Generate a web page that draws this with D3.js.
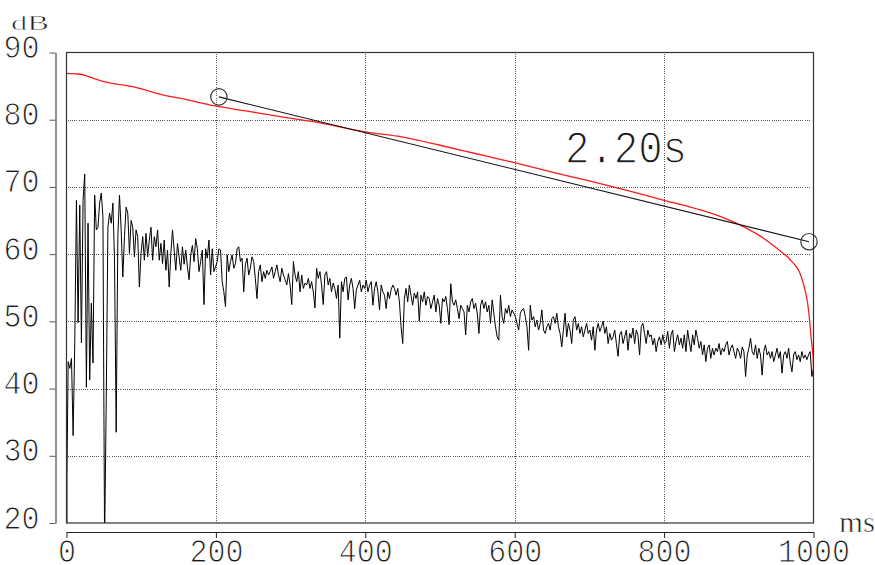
<!DOCTYPE html>
<html>
<head>
<meta charset="utf-8">
<script src="https://cdn.jsdelivr.net/npm/d3@7"></script>
<style>
  html, body { margin: 0; padding: 0; background: #fff; }
  svg { display: block; }
  text { font-family: "Liberation Mono", "Courier New", monospace; fill: #1a1a1a; }
  /* thin the glyph strokes with a white outline drawn over the fill */
  text.thin { stroke: #fff; stroke-width: 1px; paint-order: normal; }
  text.thin-lg { stroke: #fff; stroke-width: 1.3px; paint-order: normal; }
  text.unit { font-family: "Liberation Serif", "Times New Roman", serif;
              stroke: #fff; stroke-width: 0.6px; paint-order: normal; }
</style>
</head>
<body>
<svg id="chart" width="875" height="565"></svg>
<script>
// Axis ticks
const xTicks = [0, 200, 400, 600, 800, 1000];
const yTicks = [20, 30, 40, 50, 60, 70, 80, 90];

// Impulse response level (dB), uniformly sampled over 0–1000 ms, in consecutive blocks
const irDbOnset = [20, 44, 43, 44.5, 33, 47, 68, 49.8, 67.3, 46.8,
  68, 71.9, 40.2, 64.6, 41.3, 52.7, 43.8, 68.8, 63.6, 64,
  67.6, 69.1, 65.5, 17, 38.3, 64, 66.1, 64.6, 67.6, 59.1,
  33.5, 62.6, 68.8, 63.6, 56.6, 62.6, 67, 66.1, 60.1, 65,
  64, 59.6, 63.6, 62.6, 55.1, 60.1, 62.6, 59.1, 63.1, 59.6,
  62.1, 64, 59.1, 62.6, 61.1, 63.6, 59.1, 61.6, 58.6, 62.1,
  57.6, 60.6, 55.1, 60.1, 63.6, 60.6, 57.6, 61.6, 59.6, 57.6,
  61.1, 58.5, 60.6, 58.1];
const irDbEarly = [56.2, 59.9, 61.3, 58.9, 62.3, 60.8, 57.4, 58.9, 60.6, 52.5,
  60.8, 59.4, 62.1, 56.9, 60.8, 57.4, 58.1, 58.9, 60.8, 60.6,
  55.9, 54.4, 52.2, 59.9, 57.4, 58.9, 59.9, 57.9, 58.6, 60.8,
  61.1, 58.9, 59.4, 54.4, 58.4, 59.4, 56.9, 57.9, 59.6, 58.9,
  56.4, 53.4, 57.4, 58.4, 55.9, 57.4, 56.4, 57.6, 56.9, 57.4,
  58.1, 56.4, 57.4, 58.4, 56.9, 55.9, 57.9, 56.9, 56.2, 55.4,
  57.1, 55.4, 52.5, 58.9, 56.9, 55.9, 57.4, 54.4, 56.9, 54.9,
  55.7, 55.4, 56.4, 54.9, 55.9, 54.4, 52, 57.9, 56.4, 57.4,
  55.4, 52.5, 56.9, 57.4, 55.4, 56.4, 54.4, 55.7, 54.9, 53.4, 55.4];
const irDbMid = [47.5, 55.9, 54.4, 56.4, 56.6, 53.2, 55.4, 56.4, 54.9, 51.9,
  54.7, 55.4, 56.1, 54.4, 55.4, 54.9, 56.1, 54.4, 55.4, 55.9,
  52.4, 54.9, 55.9, 54.4, 51.7, 55.4, 54.4, 53.9, 51.9, 54.4,
  53.4, 54.7, 55.4, 54.9, 53.9, 54.9, 52.9, 49.2, 46.7, 53.4,
  54.9, 52.9, 55.4, 53.9, 52.4, 54.2, 53.4, 54.4, 50, 53.9,
  52.9, 54.4, 52.4, 53.7, 53.4, 51.9, 52.9, 53.9, 51.4, 53.4,
  52.4, 49.7, 53.4, 52.9, 53.7, 51.9, 49.5, 55.6, 52.9, 52.4,
  53.2, 51.9, 50.4, 52.4, 51.9, 51.4, 48, 52.4, 51.4, 52.9,
  53.4, 51.9, 52.7, 51.2, 48.2, 52.4, 53.2, 51.9, 52.9, 51.4, 52.4];
const irDbLate = [49.7, 53.2, 51.2, 49.2, 47.7, 47.2, 53.9, 50.7, 49.7, 51.9,
  51.2, 52.4, 50.7, 51.7, 51.2, 50.7, 49.7, 48.7, 51.2, 51.7,
  51.9, 50.7, 49.2, 45.7, 52.4, 50.2, 50.7, 49.2, 50.2, 48.7,
  49.7, 51.7, 48.7, 48.2, 49.2, 49.7, 48.7, 50.4, 50.7, 49.7,
  51.2, 49.2, 48.2, 46.2, 48.7, 51.2, 47.7, 49.7, 48.7, 46.7,
  50.2, 50.7, 48.7, 49.7, 48.2, 49.2, 47.7, 48.7, 49.7, 48.2,
  48.7, 47.2, 49.2, 45.7, 48.7, 49.7, 48.5, 49.2, 50, 48.2,
  49.2, 46.7, 48.2, 47.2, 47.7, 48.7, 46.7, 44.8, 48, 48.5,
  46.7, 47.7, 48.7, 45.7, 48.2, 47.5, 49, 46.7, 48.7, 48,
  45, 49.2, 49.7, 48.2, 46.7, 48.7];
const irDbTail = [47.7, 48, 46.5, 47.5, 45.5, 47, 47.7, 46.5, 48, 46.7,
  47, 48.5, 46, 48, 48.7, 45.5, 47, 48, 46.5, 47.5,
  46, 48, 45.5, 48.7, 47, 45.5, 48, 46.5, 48.7, 47.5,
  46, 47, 45, 46.5, 44, 46, 46.5, 44.5, 46, 45,
  46, 45.5, 46.7, 45, 46, 45.5, 46.5, 47, 45, 46,
  46.5, 45.5, 44.5, 46, 45.5, 44.5, 46.2, 45.5, 41.8, 45,
  46, 47.5, 45.5, 45, 46.5, 44.5, 46, 45, 42, 45.5,
  46.5, 45, 45.5, 44.5, 45.5, 44, 45, 46, 44.5, 45.5,
  42.3, 45, 45.5, 44.5, 46, 43.8, 42.5, 45, 45.5, 44.3,
  45, 44, 45.5, 44.5, 45, 44.3, 45, 45.5, 41.8, 43];
const irSpanMs = 1000;

// Backward-integrated decay curve: [ms, dB]
const decayCurve = [[0, 86.9], [15, 86.8], [25, 86.6], [35, 86.2], [45, 85.8],
  [90, 84.9], [133, 83.6], [152, 83.2], [197, 82.1], [240, 81.3], [286, 80.45],
  [330, 79.7], [400, 78.2], [450, 77.4], [500, 76.2], [550, 74.9], [600, 73.6],
  [650, 72.2], [700, 70.9], [750, 69.5], [800, 68.0], [848, 66.6], [880, 65.4],
  [906, 64.1], [930, 62.6], [945, 61.4], [959.6, 60.1], [965, 59.6], [970, 59.0],
  [975, 58.4], [980, 57.6], [984, 56.5], [987, 55.4], [990, 54.0], [992.5, 52.4],
  [994.5, 50.5], [996.2, 48.3], [998, 46.3], [999.7, 44.2], [1000, 42.5]];

// Onset marker at the first sample: [ms, dB]
const onsetMarker = [[0.6, 20], [0.6, 27.3]];

// Reverberation-time fit
const fitStartMs = 204;
const fitStartDb = 83.4;
const fitEndMs = 994;
const reverbTimeS = 2.20;

const svg = d3.select("#chart");
const plot = { left: 66.5, right: 813.5, top: 52.5, bottom: 523 };

const x = d3.scaleLinear().domain([0, 1000]).range([plot.left, plot.right]);
const y = d3.scaleLinear().domain([20, 90]).range([plot.bottom, plot.top]);

svg.append("defs").append("clipPath").attr("id", "plotClip")
  .append("rect")
  .attr("x", plot.left).attr("y", plot.top)
  .attr("width", plot.right - plot.left).attr("height", plot.bottom - plot.top);

// Dotted grid
const grid = svg.append("g").attr("stroke", "#555").attr("stroke-width", 1)
  .attr("stroke-dasharray", "1,1.2").attr("shape-rendering", "crispEdges");
grid.selectAll("line.h").data(yTicks.filter(d => d > 20 && d < 90)).join("line")
  .attr("class", "h")
  .attr("x1", plot.left + 1).attr("x2", x(995))
  .attr("y1", d => Math.round(y(d)) + 0.5).attr("y2", d => Math.round(y(d)) + 0.5);
grid.selectAll("line.v").data(xTicks.filter(d => d > 0 && d < 1000)).join("line")
  .attr("class", "v")
  .attr("y1", plot.top + 1).attr("y2", plot.bottom)
  .attr("x1", d => Math.round(x(d)) + 0.5).attr("x2", d => Math.round(x(d)) + 0.5);

const traces = svg.append("g").attr("clip-path", "url(#plotClip)");

// Impulse response
const irDb = [].concat(irDbOnset, irDbEarly, irDbMid, irDbLate, irDbTail);
const irPoints = irDb.map((v, i) => [i * irSpanMs / (irDb.length - 1), v]);
const line = d3.line().x(d => x(d[0])).y(d => y(d[1]));
traces.append("path").datum(irPoints)
  .attr("fill", "none").attr("stroke", "#000").attr("stroke-width", 1)
  .attr("d", line);

traces.append("path").datum(onsetMarker)
  .attr("fill", "none").attr("stroke", "#8f8a3a").attr("stroke-width", 2)
  .attr("d", line);

// Decay curve
traces.append("path").datum(decayCurve)
  .attr("fill", "none").attr("stroke", "#ff1a1a").attr("stroke-width", 1.3)
  .attr("d", d3.line().curve(d3.curveMonotoneX).x(d => x(d[0])).y(d => y(d[1])));

// Fit line with end markers, slope set by the reverberation time
const fitEndDb = fitStartDb - (60 / reverbTimeS) * (fitEndMs - fitStartMs) / 1000;
const fitPts = [[fitStartMs, fitStartDb], [fitEndMs, fitEndDb]];
svg.append("path").datum(fitPts)
  .attr("fill", "none").attr("stroke", "#111").attr("stroke-width", 1.1)
  .attr("d", line);
svg.selectAll("circle.fit").data(fitPts).join("circle")
  .attr("class", "fit")
  .attr("cx", d => x(d[0])).attr("cy", d => y(d[1])).attr("r", 8.2)
  .attr("fill", "none").attr("stroke", "#333").attr("stroke-width", 1.2);

// Plot frame
svg.append("rect")
  .attr("x", plot.left).attr("y", plot.top)
  .attr("width", plot.right - plot.left).attr("height", plot.bottom - plot.top)
  .attr("fill", "none").attr("stroke", "#333").attr("stroke-width", 1.2);

// Label helper: fixed advance width per glyph, vertical size from font-size
function sizeText(sel, fontSize, advance) {
  sel.attr("font-size", fontSize)
    .attr("textLength", function () { return this.textContent.length * advance; })
    .attr("lengthAdjust", "spacingAndGlyphs");
}

// Y axis, detached to the left of the frame
const yAxis = svg.append("g").attr("transform", "translate(55.5,0)")
  .call(d3.axisLeft(y).tickValues(yTicks).tickFormat(d3.format("d"))
    .tickSize(6).tickSizeOuter(0).tickPadding(10));
yAxis.attr("font-family", null);
yAxis.select(".domain").attr("stroke", "#777").attr("stroke-width", 1.6);
yAxis.selectAll(".tick line").attr("stroke", "#555");
yAxis.selectAll(".tick text").attr("dy", null).attr("y", 5).attr("fill", "#1a1a1a")
  .attr("class", "thin").call(sizeText, 34, 18);

// X axis, detached below the frame
const xAxis = svg.append("g").attr("transform", "translate(0,532)")
  .call(d3.axisBottom(x).tickValues(xTicks).tickFormat(d3.format("d"))
    .tickSize(6).tickSizeOuter(0));
xAxis.attr("font-family", null);
xAxis.select(".domain").attr("stroke", "#222").attr("stroke-width", 1.2);
xAxis.selectAll(".tick line").attr("stroke", "#222");
xAxis.selectAll(".tick text").attr("dy", null).attr("y", 30).attr("fill", "#1a1a1a")
  .attr("class", "thin").call(sizeText, 33, 18);

// Units
svg.append("text").attr("class", "unit").attr("x", 11).attr("y", 30)
  .text("dB").call(sizeText, 22, 19);
svg.append("text").attr("class", "unit").attr("x", 839).attr("y", 531.5)
  .text("ms").call(sizeText, 30, 18);

// Reverberation time label
svg.append("text").attr("class", "thin-lg").attr("x", 565).attr("y", 163)
  .text(reverbTimeS.toFixed(2) + "s").call(sizeText, 47, 24.4);
</script>
</body>
</html>
